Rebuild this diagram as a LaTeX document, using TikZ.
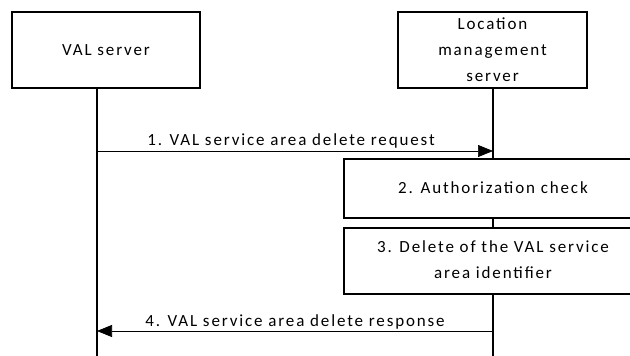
\documentclass[tikz,border=0pt]{standalone}
\usepackage{fontspec}
\setmainfont{Carlito}[LetterSpace=11]
\usetikzlibrary{arrows.meta}
\begin{document}
\begin{tikzpicture}[x=1pt,y=-1pt,
  txt/.style={font=\fontsize{17}{26}\selectfont, inner sep=0pt, align=center},
  entity/.style={draw, line width=1.8pt, fill=white, txt},
  stepbox/.style={draw, line width=1.8pt, fill=white, inner sep=0pt, anchor=north west},
  life/.style={line width=1.1pt},
  msg/.style={line width=0.7pt, -{Triangle[length=15pt,width=12pt]}}]
\useasboundingbox (0,0) rectangle (630,356);
\clip (0,0) rectangle (630,356);
% entities
\node[entity, minimum width=188pt, minimum height=76pt] (val) at (106,50) {VAL server};
\node[entity, minimum width=189pt, minimum height=76pt] (lms) at (492.5,50) {Location\\management\\server};
% lifelines
\coordinate (vtop) at (97,88);
\coordinate (vbot) at (97,358);
\coordinate (ltop) at (493,88);
\coordinate (lbot) at (493,358);
\draw[life] (vtop) -- (vbot);
\draw[life] (ltop) -- (lbot);
% step boxes
\node[stepbox, minimum width=292pt, minimum height=59pt] (chk) at (343,158) {};
\node[txt] (chkt) at (493,187.5) {2. Authorization check};
\node[stepbox, minimum width=292pt, minimum height=66pt] (del) at (343,227) {};
\node[txt] (delt) at (493,260) {3. Delete of the VAL service\\area identifier};
% messages
\coordinate (m1s) at (97,151);
\coordinate (m1e) at (493,151);
\draw[msg] (m1s) -- (m1e);
\node[txt, anchor=base] (m1t) at (291,145) {1. VAL service area delete request};
\coordinate (m4s) at (493,331);
\coordinate (m4e) at (97,331);
\draw[msg] (m4s) -- (m4e);
\node[txt, anchor=base] (m4t) at (295,326) {4. VAL service area delete response};
\end{tikzpicture}
\end{document}
